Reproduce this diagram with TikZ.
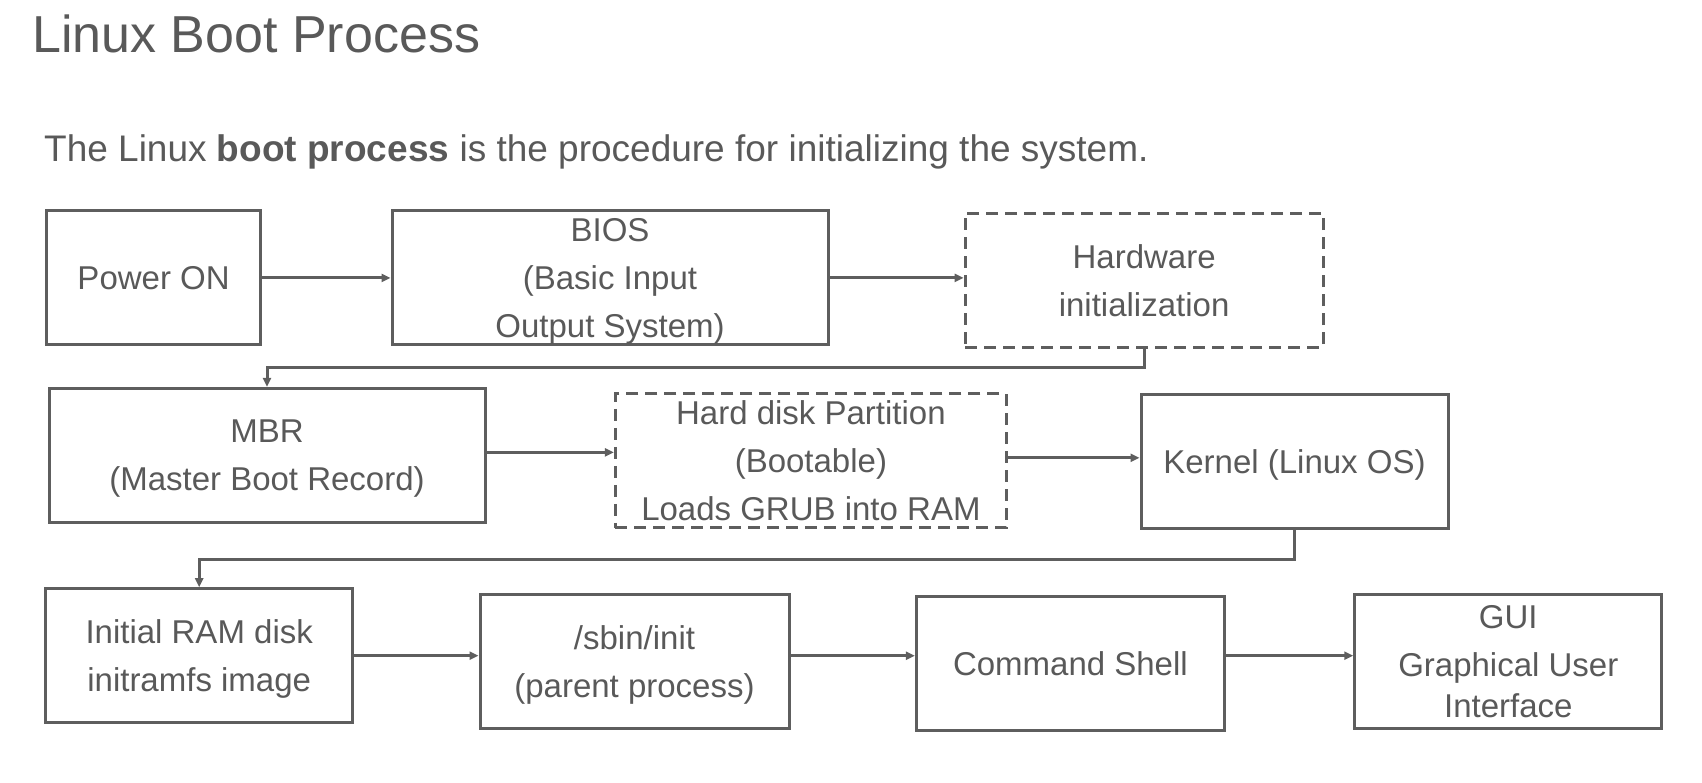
\documentclass[tikz,border=0pt]{standalone}
\usepackage{fontspec}
\setmainfont{Liberation Sans}
\usetikzlibrary{arrows.meta}
\definecolor{txt}{HTML}{595959}
\definecolor{ln}{HTML}{5E5E5E}
\begin{document}
\begin{tikzpicture}[x=1pt,y=-1pt,
  box/.style={draw=ln,line width=3pt,text=txt,align=center,inner sep=0pt,
    font=\fontsize{33}{48}\selectfont,minimum height=134pt,text depth=0pt},
  dbox/.style={box,dash pattern=on 12pt off 7pt},
  conn/.style={draw=ln,line width=3pt,-{Triangle[length=9pt,width=8pt]}}]
\useasboundingbox (0,0) rectangle (1702,782);
\node[anchor=base west,text=txt,font=\fontsize{52}{60}\selectfont,inner sep=0pt] (title) at (32,52) {Linux Boot Process};
\node[anchor=base west,text=txt,font=\fontsize{37}{44}\selectfont,inner sep=0pt] (sub) at (44,161) {The Linux \textbf{boot process} is the procedure for initializing the system.};

\node[box,minimum width=214pt] (power) at (153.6,277.9) {Power ON};
\node[box,minimum width=436pt] (bios) at (610,277.9) {BIOS\\(Basic Input\\Output System)};
\node[dbox,minimum width=358pt] (hw) at (1144.1,280.1) {Hardware\\initialization};
\node[box,minimum width=436pt] (mbr) at (267,455.4) {MBR\\(Master Boot Record)};
\node[dbox,minimum width=391pt] (hdp) at (810.9,460.8) {Hard disk Partition\\(Bootable)\\Loads GRUB into RAM};
\node[box,minimum width=307pt] (kernel) at (1294.5,461.3) {Kernel (Linux OS)};
\node[box,minimum width=307pt] (initrd) at (199.2,655.7) {Initial RAM disk\\initramfs image};
\node[box,minimum width=309pt] (sbin) at (634.5,661.6) {/sbin/init\\(parent process)};
\node[box,minimum width=308pt] (cmd) at (1070.4,663.8) {Command Shell};
\node[box,minimum width=307pt] (gui) at (1508.3,661.6) {GUI\\Graphical User\\[-7pt]Interface};

\draw[conn] (power.east) -- (bios.west);
\draw[conn] (bios.east) -- (bios.east -| hw.west);
\draw[conn] (hw.south) -- ++(0,19) -| (mbr.north);
\draw[conn] ([yshift=3pt]mbr.east) -- ([yshift=3pt]mbr.east -| hdp.west);
\draw[conn] ([yshift=3pt]hdp.east) -- ([yshift=3pt]hdp.east -| kernel.west);
\draw[conn] (kernel.south) -- ++(0,30) -| (initrd.north);
\draw[conn] (initrd.east) -- (initrd.east -| sbin.west);
\draw[conn] (initrd.east -| sbin.east) -- (initrd.east -| cmd.west);
\draw[conn] (initrd.east -| cmd.east) -- (initrd.east -| gui.west);
\end{tikzpicture}
\end{document}
